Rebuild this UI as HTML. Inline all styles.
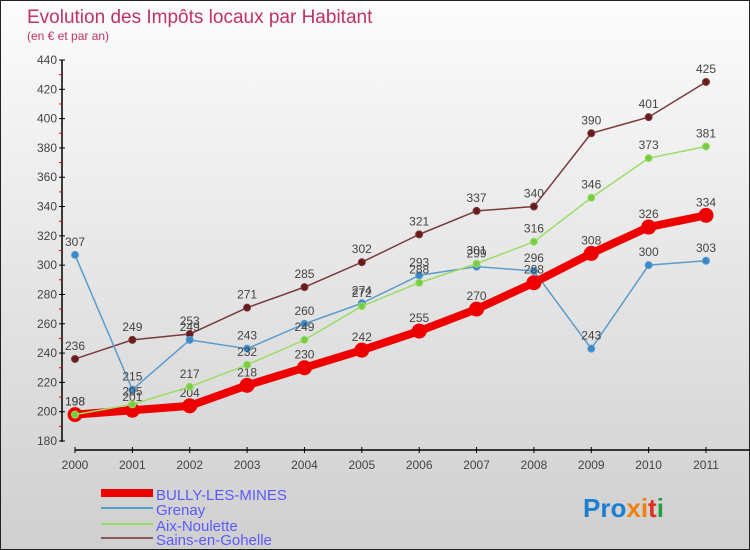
<!DOCTYPE html>
<html><head><meta charset="utf-8"><style>
body{margin:0}
#c{position:relative;width:748px;height:548px;border:1px solid #222;background:linear-gradient(#fcfcfc,#cfcfcf);overflow:hidden;font-family:"Liberation Sans",sans-serif}
</style></head><body>
<div id="c">
<svg width="748" height="548" id="svg">
<text x="26" y="22" font-size="19" fill="#c0335f">Evolution des Impôts locaux par Habitant</text>
<text x="26" y="39" font-size="12" fill="#c0335f">(en € et par an)</text>
<g id="axes"></g><g id="series"></g>
<g>
<rect x="100" y="488" width="52" height="8" fill="#e00"/>
<text x="155" y="499" font-size="15" fill="#5a5aff">BULLY-LES-MINES</text>
<line x1="100" y1="507" x2="152" y2="507" stroke="#5a9ccc" stroke-width="2"/>
<text x="155" y="514" font-size="15" fill="#5a5aff">Grenay</text>
<line x1="100" y1="523" x2="152" y2="523" stroke="#99dd66" stroke-width="2"/>
<text x="155" y="530" font-size="15" fill="#5a5aff">Aix-Noulette</text>
<line x1="100" y1="537" x2="152" y2="537" stroke="#8a5a5a" stroke-width="2"/>
<text x="155" y="544" font-size="15" fill="#5a5aff">Sains-en-Gohelle</text>
</g>
<text x="582" y="516" font-size="26" font-weight="bold"><tspan fill="#1a7fd0">Pro</tspan><tspan fill="#f08010">x</tspan><tspan fill="#1a7fd0"></tspan><tspan fill="#f08010">i</tspan><tspan fill="#e03020">t</tspan><tspan fill="#20a040">i</tspan></text>
</svg></div>
<script>
const years=["2000","2001","2002","2003","2004","2005","2006","2007","2008","2009","2010","2011"];
const bully=[198,201,204,218,230,242,255,270,288,308,326,334];
const grenay=[307,215,249,243,260,274,293,299,296,243,300,303];
const aix=[198,205,217,232,249,272,288,301,316,346,373,381];
const sains=[236,249,253,271,285,302,321,337,340,390,401,425];
const yTicks=[180,200,220,240,260,280,300,320,340,360,380,400,420,440];
const NS="http://www.w3.org/2000/svg";
function x(i){return 74+i*(705-74)/11;}
function y(v){return 440-(v-180)*(440-59)/260;}
function mk(t,a,p){const e=document.createElementNS(NS,t);for(const k in a)e.setAttribute(k,a[k]);p.appendChild(e);return e;}
const ax=document.getElementById('axes');
mk('line',{x1:61,y1:59,x2:61,y2:441,stroke:'#000','stroke-width':1.5},ax);
mk('line',{x1:74,y1:449,x2:748,y2:449,stroke:'#000','stroke-width':1.5},ax);
yTicks.forEach((t,i)=>{
 mk('line',{x1:58,y1:y(t),x2:64,y2:y(t),stroke:'#000'},ax);
 if(i<yTicks.length-1)mk('line',{x1:58,y1:y(t+10),x2:61,y2:y(t+10),stroke:'#e00'},ax);
 const e=mk('text',{x:56,y:y(t)+4,'font-size':12,'text-anchor':'end',fill:'#444'},ax);
 e.textContent=t;
 
 
});
years.forEach((yr,i)=>{
 mk('line',{x1:x(i),y1:446,x2:x(i),y2:452,stroke:'#000'},ax);
 const e=mk('text',{x:x(i),y:468,'font-size':12,'text-anchor':'middle',fill:'#444'},ax);
 e.textContent=yr;
 
 
});
const sg=document.getElementById('series');
function series(data,color,w,r,name,dot){
 const g=mk('g',{},sg);
 
 
 mk('polyline',{points:data.map((v,i)=>x(i)+','+y(v)).join(' '),fill:'none',stroke:color,'stroke-width':w,'stroke-linejoin':'round'},g);
 data.forEach((v,i)=>{
  const c=mk('circle',{cx:x(i),cy:y(v),r:r,fill:dot,stroke:color,'stroke-width':1},g);
  
  
  const t=mk('text',{x:x(i),y:y(v)-9,'font-size':12,'text-anchor':'middle',fill:'#444'},g);
  t.textContent=v;
 });
}
series(sains,'#7a3a3a',1.5,3.5,'series-sains','#6a1a1a');
series(grenay,'#5a9ccc',1.5,3.5,'series-grenay','#3a88cc');
series(bully,'#e00',8,7,'series-bully','#e00');
series(aix,'#99dd66',1.5,3.5,'series-aix','#77cc44');
</script>
</body></html>
